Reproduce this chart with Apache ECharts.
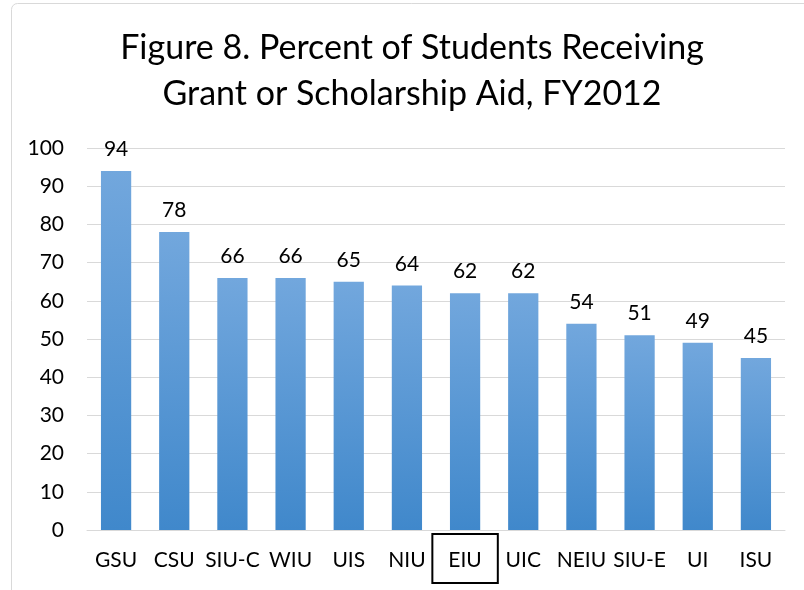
<!DOCTYPE html>
<html>
<head>
<meta charset="utf-8">
<script src="https://cdn.jsdelivr.net/npm/echarts@6/dist/echarts.min.js"></script>
<style>
  html, body { margin: 0; padding: 0; background: #fff; }
  #chart { width: 804px; height: 590px; }
</style>
</head>
<body>
<div id="chart"></div>
<script>
// 数据
var schools = ['GSU', 'CSU', 'SIU-C', 'WIU', 'UIS', 'NIU', 'EIU', 'UIC', 'NEIU', 'SIU-E', 'UI', 'ISU'];
var percents = [94, 78, 66, 66, 65, 64, 62, 62, 54, 51, 49, 45];
var highlight = 'EIU';
var titleText = 'Figure 8. Percent of Students Receiving\nGrant or Scholarship Aid, FY2012';

var font = 'Lato, "Open Sans", sans-serif';
var myChart = echarts.init(document.getElementById('chart'));

var option = {
    backgroundColor: '#fff',
    animation: false,
    graphic: [{
        type: 'rect',
        shape: { x: 11.5, y: 3.5, width: 820, height: 620, r: 6 },
        style: { fill: 'none', stroke: '#d9d9d9', lineWidth: 1 },
        silent: true
    }, {
        // 标题
        type: 'text',
        x: 412,
        y: 25,
        silent: true,
        style: {
            text: titleText,
            align: 'center',
            verticalAlign: 'top',
            fontFamily: font,
            fontSize: 34,
            lineHeight: 46,
            fill: '#000'
        }
    }],
    grid: { left: 87, right: 19, top: 148, bottom: 60, outerBoundsMode: 'none' },
    xAxis: {
        type: 'category',
        data: schools,
        axisTick: { show: false },
        axisLine: { lineStyle: { color: '#d9d9d9', width: 1 } },
        axisLabel: {
            interval: 0,
            margin: 4,
            color: '#000',
            fontFamily: font,
            fontSize: 21,
            formatter: function (v) {
                return v === highlight ? '{box|' + v + '}' : '{plain|' + v + '}';
            },
            rich: {
                plain: {
                    fontFamily: font,
                    fontSize: 21,
                    color: '#000',
                    padding: [16, 0, 12, 0]
                },
                box: {
                    fontFamily: font,
                    fontSize: 21,
                    color: '#000',
                    borderColor: '#000',
                    borderWidth: 2,
                    padding: [16, 16, 12, 16]
                }
            }
        }
    },
    yAxis: {
        type: 'value',
        min: 0,
        max: 100,
        interval: 10,
        axisLine: { show: false },
        axisTick: { show: false },
        splitLine: { lineStyle: { color: '#d9d9d9', width: 1 } },
        axisLabel: {
            margin: 23,
            color: '#000',
            fontFamily: font,
            fontSize: 21
        }
    },
    series: [{
        type: 'bar',
        data: percents,
        barWidth: '52%',
        itemStyle: {
            color: new echarts.graphic.LinearGradient(0, 0, 0, 1, [
                { offset: 0, color: '#72a7dd' },
                { offset: 1, color: '#4088cb' }
            ])
        },
        label: {
            show: true,
            position: 'top',
            distance: 11,
            color: '#000',
            fontFamily: font,
            fontSize: 21
        }
    }]
};

myChart.setOption(option);
</script>
</body>
</html>
